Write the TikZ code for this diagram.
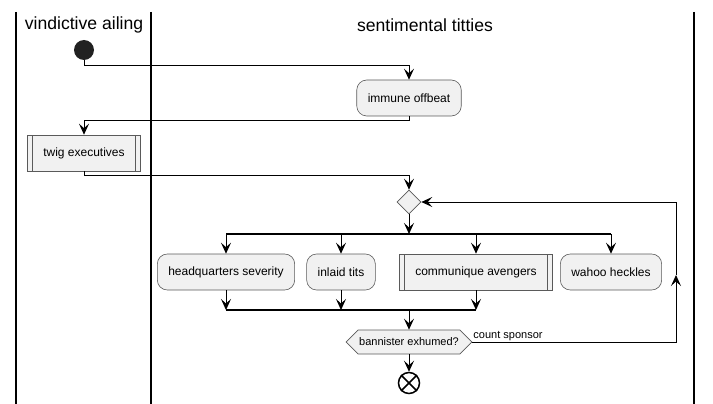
\documentclass[tikz,border=0pt]{standalone}
\usepackage{fontspec}
\setmainfont{Liberation Sans}
\usetikzlibrary{arrows.meta,shapes.geometric,shapes.symbols}
\definecolor{boxfill}{HTML}{F1F1F1}
\definecolor{boxline}{HTML}{5A5A5A}
\tikzset{
  flow/.style={line width=1pt, >={Stealth[length=11pt,width=10pt,inset=4.5pt]}},
  act/.style={draw=boxline, fill=boxfill, line width=0.6pt, rounded corners=10pt,
    minimum height=36pt, inner xsep=11pt, font=\fontsize{12}{14}\selectfont},
  subact/.style={act, rounded corners=0pt, inner xsep=16pt,
    path picture={
      \draw[boxline, line width=0.6pt] ([xshift=5pt]path picture bounding box.north west) -- ([xshift=5pt]path picture bounding box.south west);
      \draw[boxline, line width=0.6pt] ([xshift=-5pt]path picture bounding box.north east) -- ([xshift=-5pt]path picture bounding box.south east);
    }},
  bar/.style={line width=2pt},
  lane/.style={line width=1.5pt},
  lanetitle/.style={font=\fontsize{17.6}{20}\selectfont}
}
\begin{document}
\begin{tikzpicture}[x=1pt, y=-1pt]
\useasboundingbox (0,0) rectangle (713,404);

% Swimlanes
\draw[lane] (16,12) -- (16,404);
\draw[lane] (151,12) -- (151,404);
\draw[lane] (694,12) -- (694,404);
\node[lanetitle] (laneA) at (84,25) {vindictive ailing};
\node[lanetitle] (laneB) at (425,25) {sentimental titties};

% Start and activities
\node[circle, fill={black!87}, minimum size=20pt, inner sep=0pt] (start) at (84,50) {};
\node[act] (offbeat) at (409,98) {immune offbeat};
\node[subact] (twig) at (84,153) {twig executives};
\node[diamond, draw=boxline, fill=boxfill, line width=0.6pt, minimum size=24pt, inner sep=0pt] (loop) at (409,202) {};

% Fork branches
\node[act] (hq) at (226,272) {headquarters severity};
\node[act] (inlaid) at (341,272) {inlaid tits};
\node[subact] (ca) at (476,272) {communique avengers};
\node[act] (wahoo) at (611,272) {wahoo heckles};
\coordinate (fork) at (409,234);
\coordinate (join) at (409,310);

% Decision and end
\node[signal, signal to=west and east, signal pointer angle=90, draw=boxline, fill=boxfill,
  line width=0.6pt, minimum height=24pt, inner xsep=1pt, inner ysep=0pt,
  font=\fontsize{11}{13}\selectfont] (test) at (409,342) {bannister exhumed?};
\node[circle, draw, line width=1.5pt, minimum size=21pt, inner sep=0pt] (stop) at (409,383) {};
\draw[line width=1.5pt] (stop.45) -- (stop.225);
\draw[line width=1.5pt] (stop.135) -- (stop.315);

% Connectors
\draw[flow,->] (start.south) -- ++(0,5) -| (offbeat.north);
\draw[flow,->] (offbeat.south) -- ++(0,4) -| (twig.north);
\draw[flow,->] (twig.south) -- ++(0,4) -| (loop.north);
\draw[flow,->] (loop.south) -- (fork);
\draw[bar] (hq.north |- fork) -- (wahoo.north |- fork);
\draw[flow,->] (hq.north |- fork) -- (hq.north);
\draw[flow,->] (inlaid.north |- fork) -- (inlaid.north);
\draw[flow,->] (ca.north |- fork) -- (ca.north);
\draw[flow,->] (wahoo.north |- fork) -- (wahoo.north);
\draw[flow,->] (hq.south) -- (hq.south |- join);
\draw[flow,->] (inlaid.south) -- (inlaid.south |- join);
\draw[flow,->] (ca.south) -- (ca.south |- join);
\draw[bar] (hq.south |- join) -- (ca.south |- join);
\draw[flow,->] (join) -- (test.north);
\draw[flow,->] (test.south) -- (stop.north);

% Loop back
\coordinate (back) at (676,275);
\draw[flow,->] (test.east) -| (back);
\draw[flow,->] (back) |- (loop.east);
\node[anchor=south west, inner sep=1pt, font=\fontsize{11}{13}\selectfont] (lbl) at (test.east) {count sponsor};
\end{tikzpicture}
\end{document}
